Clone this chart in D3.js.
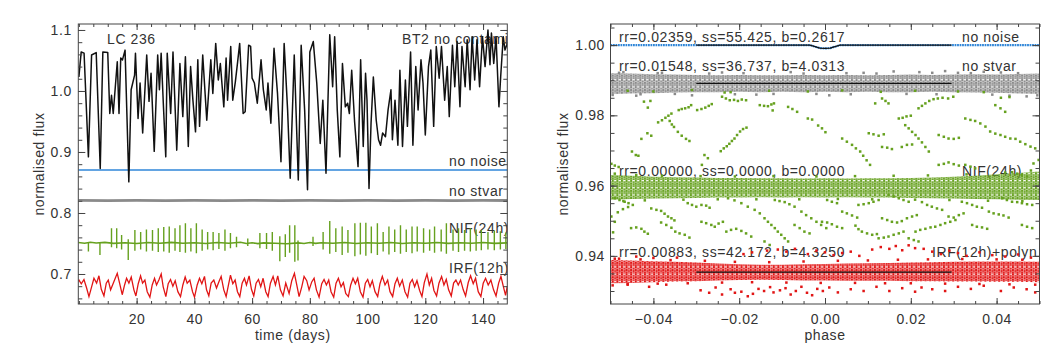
<!DOCTYPE html>
<html>
<head>
<meta charset="UTF-8">
<script src="https://cdn.jsdelivr.net/npm/d3@7"></script>
<style>
  body { margin: 0; background: #fff; }
  svg text { font-family: "Liberation Sans", Arial, sans-serif; font-size: 14px; letter-spacing: 0.6px; fill: #333; }
</style>
</head>
<body>
<svg id="chart" width="1063" height="354"></svg>
<script>
// ---------- left panel: light curves (time in days, normalised flux) ----------
var blackLC = [
  [0.0,1.023],[0.8,1.064],[1.8,1.062],[3.3,0.892],[4.4,1.059],[6.0,1.063],[7.4,0.873],[8.3,1.064],[10.0,1.063],[10.7,0.963],
  [11.3,0.993],[11.9,0.963],[13.3,1.048],[13.9,0.963],[14.5,1.054],[15.1,1.051],[16.0,1.067],[17.3,0.851],[18.1,1.002],[19.3,1.026],
  [19.6,1.062],[20.5,0.955],[21.2,1.013],[22.1,0.931],[23.5,1.059],[24.3,0.983],[25.0,1.029],[26.1,0.901],[27.3,1.059],[27.9,1.002],
  [28.5,1.062],[29.3,0.974],[30.1,0.892],[30.6,1.062],[31.8,0.963],[32.6,1.064],[33.9,0.903],[35.0,1.045],[36.0,0.958],[36.9,1.056],
  [37.9,0.909],[38.7,1.040],[39.5,0.985],[40.4,0.933],[41.2,1.051],[41.8,0.942],[42.9,1.059],[44.3,0.952],[45.7,1.051],[46.4,0.996],
  [47.4,1.078],[48.3,1.018],[49.0,1.045],[50.2,0.974],[51.0,1.054],[51.5,0.985],[52.6,1.073],[53.3,0.985],[54.2,1.015],[55.0,1.048],
  [55.7,1.078],[56.9,0.963],[57.6,0.966],[58.8,1.075],[59.5,1.073],[60.0,1.021],[60.8,1.013],[61.8,0.980],[63.1,1.051],[63.9,1.002],
  [64.9,0.969],[65.5,1.013],[66.5,0.947],[67.6,1.070],[68.8,0.996],[70.0,0.884],[71.1,1.078],[72.3,0.969],[73.2,0.857],[74.6,1.059],
  [76.0,0.854],[77.0,1.075],[78.2,0.969],[79.2,0.838],[80.0,1.064],[81.2,1.081],[82.4,1.013],[83.6,0.914],[84.5,0.985],[85.6,0.865],
  [86.9,1.092],[87.9,1.007],[88.6,1.089],[89.5,0.969],[90.4,0.892],[91.3,1.045],[92.3,0.974],[93.1,0.980],[93.7,0.963],[94.5,1.034],
  [95.5,0.950],[96.7,0.876],[97.6,1.051],[98.5,0.909],[99.3,1.029],[99.8,0.985],[100.5,0.840],[101.2,0.947],[102.0,1.023],[103.0,0.952],
  [103.8,0.920],[104.5,0.911],[105.2,0.931],[106.2,0.925],[107.1,0.969],[108.1,1.002],[108.6,0.920],[109.5,0.985],[110.5,0.911],[111.2,1.034],
  [112.1,0.909],[113.1,1.018],[113.8,0.942],[114.9,1.064],[115.7,0.911],[116.7,1.040],[117.5,0.969],[118.5,1.051],[119.2,1.013],[120.0,0.928],
  [121.1,1.040],[121.9,1.067],[122.9,0.942],[123.8,1.073],[124.8,1.021],[125.6,1.073],[126.7,0.985],[127.6,1.040],[128.3,0.958],[129.4,1.075],
  [130.2,1.007],[131.0,1.081],[132.0,0.974],[132.7,1.073],[133.8,1.007],[134.5,1.084],[135.5,1.002],[136.2,1.089],[137.1,1.018],[137.9,1.084],
  [138.8,1.007],[139.8,1.089],[140.7,1.040],[141.7,1.100],[142.4,1.043],[142.9,1.095],[143.7,1.045],[144.5,1.089],[145.5,0.974],[146.1,1.023],
  [147.0,1.089],[147.6,1.067],[148.4,1.078]
];

var blueLC = [[-0.2,0.8705],[148.4,0.8705]];

var grayLC = [
  [-0.2,0.8206],[10,0.8203],[20,0.8207],[30,0.8204],[40,0.8206],[50,0.8203],[60,0.8207],[70,0.8204],[80,0.8206],
  [90,0.8203],[100,0.8207],[110,0.8204],[120,0.8206],[130,0.8203],[140,0.8207],[148.4,0.8205]
];

// NIF(24h): quiet baseline plus up/down spikes
var greenBase = [
  [-0.2,0.7515],[2,0.7505],[4,0.7520],[6,0.7508],[9,0.7518],[12,0.7502],[16,0.7512],[20,0.7500],[24,0.7515],[28,0.7505],
  [32,0.7518],[36,0.7503],[40,0.7513],[44,0.7500],[48,0.7515],[52,0.7505],[56,0.7520],[58,0.7500],[60,0.7512],[62,0.7498],
  [64,0.7510],[68,0.7505],[72,0.7495],[76,0.7510],[78,0.7500],[80,0.7515],[82,0.7502],[84,0.7512],[88,0.7505],[92,0.7515],
  [96,0.7500],[100,0.7512],[104,0.7505],[108,0.7515],[112,0.7500],[116,0.7512],[120,0.7505],[124,0.7515],[128,0.7502],[132,0.7512],
  [136,0.7505],[140,0.7515],[144,0.7502],[148.4,0.7510]
];
var greenT = [3.3,7.3,11.3,13.1,14.8,17.1,19.4,21.4,23.4,25.5,27.5,29.4,31.3,33.3,35.0,36.9,38.8,40.7,42.7,44.6,46.5,48.5,50.6,52.5,54.6,58.5,
  62.7,65.0,67.0,69.6,71.5,73.0,74.8,75.9,81.1,84.6,86.9,89.0,91.2,93.2,95.6,97.5,99.4,101.3,103.4,105.4,107.4,109.4,111.4,113.4,115.4,
  117.2,119.4,121.5,123.2,125.5,127.3,129.6,131.5,133.6,135.6,137.6,139.4,141.7,143.9,146.0,147.9];
var greenUp = [0.752,0.752,0.775,0.775,0.764,0.757,0.772,0.769,0.773,0.772,0.775,0.777,0.778,0.775,0.780,0.783,0.775,0.783,0.773,0.769,
  0.769,0.767,0.773,0.767,0.761,0.758,0.767,0.767,0.769,0.762,0.765,0.780,0.780,0.755,0.761,0.769,0.787,0.775,0.778,0.772,
  0.783,0.784,0.784,0.778,0.783,0.769,0.778,0.773,0.780,0.773,0.778,0.778,0.775,0.773,0.778,0.773,0.783,0.773,0.775,0.772,
  0.775,0.773,0.772,0.769,0.771,0.770,0.768];
var greenDown = [0.737,0.731,0.744,0.742,0.740,0.723,0.738,0.740,0.737,0.738,0.736,0.737,0.735,0.738,0.736,0.735,0.737,0.734,0.738,0.740,
  0.739,0.741,0.738,0.742,0.744,0.746,0.742,0.741,0.738,0.721,0.728,0.735,0.720,0.722,0.746,0.740,0.733,0.736,0.731,0.735,
  0.729,0.732,0.730,0.734,0.731,0.737,0.732,0.736,0.733,0.736,0.734,0.737,0.735,0.738,0.735,0.737,0.733,0.738,0.736,0.738,
  0.737,0.738,0.739,0.740,0.739,0.740,0.741];

var redLC = [
  [-0.2,0.688],[0.03,0.690],[0.84,0.684],[1.76,0.691],[2.68,0.677],[3.49,0.663],[4.41,0.679],[5.22,0.693],[6.14,0.685],[6.95,0.697],
  [7.76,0.675],[8.68,0.664],[9.49,0.685],[10.18,0.690],[10.99,0.674],[11.91,0.685],[12.6,0.693],[13.29,0.701],[14.1,0.685],[15.02,0.666],
  [15.83,0.682],[16.52,0.693],[17.33,0.685],[18.14,0.695],[19.06,0.674],[19.75,0.664],[20.56,0.684],[21.37,0.697],[22.06,0.685],[22.87,0.690],
  [23.67,0.671],[24.6,0.662],[25.4,0.682],[26.21,0.693],[26.9,0.682],[27.71,0.690],[28.52,0.700],[29.21,0.679],[30.13,0.663],[30.94,0.684],
  [31.75,0.691],[32.56,0.680],[33.36,0.689],[34.29,0.671],[35.21,0.663],[36.02,0.682],[36.82,0.695],[37.52,0.685],[38.44,0.690],[39.36,0.671],
  [40.05,0.662],[40.98,0.682],[41.78,0.693],[42.59,0.684],[43.51,0.696],[44.21,0.674],[45.01,0.664],[45.82,0.685],[46.74,0.690],[47.67,0.677],
  [48.47,0.687],[49.28,0.696],[50.2,0.674],[51.01,0.663],[51.82,0.682],[52.51,0.698],[53.32,0.684],[54.12,0.690],[54.93,0.671],[55.74,0.663],
  [56.55,0.685],[57.35,0.693],[58.05,0.682],[58.97,0.697],[59.78,0.675],[60.58,0.664],[61.39,0.685],[62.2,0.691],[63.0,0.679],[63.81,0.693],
  [64.74,0.671],[65.54,0.663],[66.35,0.685],[67.27,0.696],[68.08,0.682],[68.89,0.697],[69.81,0.674],[70.73,0.664],[71.66,0.685],[72.82,0.668],
  [73.74,0.689],[74.66,0.701],[75.47,0.682],[76.28,0.663],[77.2,0.679],[78.01,0.696],[78.93,0.689],[79.74,0.674],[80.66,0.687],[81.47,0.693],
  [82.28,0.674],[83.2,0.662],[84.12,0.684],[84.93,0.691],[85.74,0.682],[86.54,0.690],[87.35,0.671],[88.27,0.662],[89.08,0.685],[89.89,0.693],
  [90.81,0.679],[91.62,0.686],[92.43,0.668],[93.35,0.663],[94.16,0.682],[94.96,0.693],[95.77,0.684],[96.58,0.693],[97.5,0.671],[98.42,0.662],
  [99.23,0.685],[100.04,0.691],[100.85,0.679],[101.65,0.689],[102.58,0.671],[103.5,0.663],[104.3,0.684],[105.11,0.696],[106.04,0.682],[106.96,0.690],
  [107.77,0.671],[108.69,0.663],[109.5,0.684],[110.3,0.693],[111.11,0.680],[112.03,0.690],[112.96,0.671],[113.88,0.662],[114.69,0.685],[115.49,0.691],
  [116.3,0.679],[117.11,0.689],[118.03,0.673],[118.84,0.663],[119.65,0.686],[120.57,0.700],[121.38,0.682],[122.18,0.693],[122.99,0.673],[123.91,0.664],
  [124.72,0.685],[125.64,0.696],[126.45,0.682],[127.26,0.691],[128.07,0.674],[128.99,0.664],[129.8,0.685],[130.6,0.690],[131.41,0.682],[132.22,0.690],
  [133.14,0.674],[133.95,0.664],[134.87,0.686],[135.68,0.697],[136.6,0.684],[137.41,0.693],[138.33,0.671],[139.25,0.663],[140.06,0.685],[140.87,0.693],
  [141.79,0.682],[142.71,0.690],[143.64,0.674],[144.5,0.664],[145.4,0.685],[146.2,0.696],[147.0,0.680],[147.8,0.665],[148.4,0.680]
];

// ---------- right panel: phase-folded light curves ----------
var phaseKnots = [-0.05,-0.045,-0.04,-0.035,-0.03,-0.025,-0.02,-0.015,-0.01,-0.005,0,0.005,0.01,0.015,0.02,0.025,0.03,0.035,0.04,0.045,0.05];
var grayHi  = [0.9920,0.9919,0.9917,0.9916,0.9915,0.9914,0.9915,0.9914,0.9914,0.9915,0.9914,0.9915,0.9914,0.9915,0.9916,0.9915,0.9916,0.9917,0.9916,0.9918,0.9919];
var grayLo  = [0.9860,0.9862,0.9863,0.9865,0.9866,0.9866,0.9867,0.9866,0.9867,0.9866,0.9867,0.9866,0.9867,0.9866,0.9866,0.9867,0.9866,0.9865,0.9864,0.9862,0.9861];
var greenHi = [0.9630,0.9628,0.9625,0.9624,0.9623,0.9622,0.9622,0.9621,0.9621,0.9620,0.9621,0.9620,0.9621,0.9621,0.9622,0.9623,0.9625,0.9628,0.9632,0.9636,0.9640];
var greenLo = [0.9560,0.9562,0.9563,0.9564,0.9565,0.9566,0.9566,0.9567,0.9566,0.9567,0.9566,0.9567,0.9566,0.9566,0.9565,0.9564,0.9563,0.9562,0.9561,0.9560,0.9559];
var redHi   = [0.9388,0.9387,0.9385,0.9383,0.9381,0.9378,0.9376,0.9375,0.9375,0.9376,0.9377,0.9378,0.9379,0.9380,0.9381,0.9382,0.9383,0.9384,0.9384,0.9384,0.9383];
var redLo   = [0.9322,0.9323,0.9325,0.9327,0.9328,0.9330,0.9331,0.9332,0.9331,0.9330,0.9330,0.9329,0.9329,0.9329,0.9328,0.9328,0.9327,0.9327,0.9326,0.9326,0.9325];

var noNoisePhased = [[-0.05,1.0],[-0.0035,1.0],[-0.0025,0.9996],[-0.0012,0.99915],[0,0.99905],[0.0012,0.99915],[0.0025,0.9996],[0.0035,1.0],[0.05,1.0]];
var fitNoNoise = [[-0.03,1.0],[-0.0035,1.0],[-0.0025,0.9996],[-0.0012,0.99915],[0,0.99905],[0.0012,0.99915],[0.0025,0.9996],[0.0035,1.0],[0.0295,1.0]];
var fitNoStvar = [[-0.03,0.9891],[0.0295,0.9891]];
var fitIrf = [[-0.03,0.93536],[0.0295,0.93536]];

var grayOut = [[-0.0495,0.9858],[-0.047,0.9923],[-0.044,0.9856],[-0.038,0.9921],[-0.031,0.9857],[-0.024,0.9922],[-0.016,0.9859],
  [-0.008,0.9923],[0.001,0.9857],[0.009,0.9921],[0.016,0.9925],[0.022,0.9923],[0.028,0.9926],[0.031,0.9921],[0.037,0.9924],
  [0.043,0.9856],[0.047,0.9854],[0.0495,0.9857],
  [-0.048,0.9921],[-0.043,0.9860],[-0.039,0.9920],[-0.035,0.9861],[-0.027,0.9919],[-0.021,0.9860],[-0.019,0.9920],[-0.012,0.9861],
  [-0.005,0.9919],[-0.002,0.9861],[0.005,0.9920],[0.006,0.9860],[0.012,0.9919],[0.019,0.9861],[0.025,0.9921],[0.026,0.9860],
  [0.034,0.9920],[0.039,0.9859],[0.041,0.9922],[0.045,0.9920]];

var greenEdge = [[-0.049,0.9634],[-0.047,0.9556],[-0.044,0.9630],[-0.042,0.9558],[-0.038,0.9628],[-0.033,0.9560],[-0.029,0.9627],
  [-0.025,0.9561],[-0.021,0.9626],[-0.016,0.9561],[-0.012,0.9627],[-0.006,0.9561],[-0.002,0.9626],[0.003,0.9562],[0.007,0.9627],
  [0.011,0.9561],[0.016,0.9628],[0.021,0.9560],[0.024,0.9629],[0.029,0.9559],[0.033,0.9632],[0.038,0.9557],[0.042,0.9637],
  [0.046,0.9556],[0.048,0.9643]];

var greenUpper = [
  [-0.046,0.9870],[-0.040,0.9868],[-0.031,0.9872],[-0.022,0.9866],[-0.013,0.9870],[-0.004,0.9868],[0.004,0.9871],[0.013,0.9867],
  [0.021,0.9870],[0.031,0.9868],[0.037,0.9866],[0.041,0.9850],[0.043,0.9852],
  [-0.0422,0.9839],[-0.0407,0.9841],[-0.0413,0.9822],[-0.0389,0.9780],[-0.0380,0.9786],[-0.0372,0.9793],[-0.0365,0.9799],[-0.0358,0.9805],
  [-0.0362,0.9784],[-0.0357,0.9774],[-0.0352,0.9767],[-0.0341,0.9815],[-0.0334,0.9818],[-0.0326,0.9820],[-0.0318,0.9823],[-0.0312,0.9829],
  [-0.0298,0.9815],[-0.0288,0.9818],[-0.0279,0.9822],[-0.0271,0.9827],[-0.0264,0.9832],[-0.0414,0.9749],[-0.0405,0.9742],[-0.0428,0.9733],
  [-0.0343,0.9753],[-0.0334,0.9742],[-0.0324,0.9733],[-0.0316,0.9727],[-0.0450,0.9697],[-0.0441,0.9687],[-0.0435,0.9685],
  [-0.0240,0.9853],[-0.0231,0.9848],[-0.0222,0.9843],[-0.0212,0.9844],[-0.0203,0.9841],[-0.0194,0.9845],[-0.0184,0.9843],[-0.0234,0.9865],
  [-0.0243,0.9698],[-0.0236,0.9706],[-0.0229,0.9712],[-0.0223,0.9719],[-0.0217,0.9727],[-0.0211,0.9734],[-0.0205,0.9744],[-0.0198,0.9754],
  [-0.0191,0.9761],[-0.0183,0.9765],[-0.0281,0.9687],[-0.0273,0.9678],[-0.0287,0.9659],
  [-0.0152,0.9829],[-0.0142,0.9827],[-0.0133,0.9826],[-0.0125,0.9831],[-0.0119,0.9834],[-0.0122,0.9814],[-0.0086,0.9824],[-0.0076,0.9818],
  [-0.0065,0.9810],[-0.0040,0.9791],[-0.0030,0.9788],[-0.0016,0.9771],[-0.0007,0.9763],[0.0001,0.9752],[-0.0490,0.9657],[-0.0481,0.9653],[-0.0498,0.9662],
  [0.0117,0.9834],[0.0133,0.9848],[0.0141,0.9841],[0.0148,0.9834],[0.0172,0.9791],[0.0181,0.9793],[0.0190,0.9797],[0.0200,0.9799],
  [0.0187,0.9772],[0.0195,0.9763],[0.0203,0.9753],[0.0211,0.9744],[0.0218,0.9734],[0.0226,0.9723],[0.0234,0.9710],[0.0242,0.9697],
  [0.0218,0.9820],[0.0226,0.9827],[0.0234,0.9834],[0.0243,0.9841],[0.0253,0.9846],[0.0263,0.9848],[0.0274,0.9850],[0.0287,0.9848],[0.0299,0.9853],
  [0.0102,0.9749],[0.0113,0.9746],[0.0125,0.9742],[0.0137,0.9746],[0.0040,0.9734],[0.0051,0.9725],[0.0063,0.9716],[0.0072,0.9706],
  [0.0082,0.9697],[0.0089,0.9685],[0.0097,0.9672],[0.0105,0.9659],[0.0133,0.9710],[0.0145,0.9708],[0.0156,0.9704],[0.0179,0.9710],
  [0.0191,0.9716],[0.0203,0.9717],[0.0265,0.9744],[0.0277,0.9739],[0.0288,0.9734],[0.0300,0.9733],[0.0312,0.9736],
  [0.0327,0.9791],[0.0339,0.9787],[0.0350,0.9784],[0.0362,0.9777],[0.0374,0.9768],[0.0385,0.9754],[0.0397,0.9748],[0.0409,0.9744],
  [0.0420,0.9739],[0.0432,0.9734],[0.0444,0.9733],[0.0455,0.9725],[0.0467,0.9718],[0.0479,0.9711],[0.0490,0.9706],
  [0.0397,0.9829],[0.0409,0.9820],[0.0420,0.9810],[0.0486,0.9663],[0.0498,0.9673],[0.0265,0.9659],[0.0277,0.9662],[0.0288,0.9666],
  [0.0300,0.9661],[0.0312,0.9657],[0.0327,0.9659],[0.0339,0.9654],[0.0350,0.9649],[0.0436,0.9638],[0.0448,0.9634],[0.0459,0.9630],[0.0471,0.9626]
];
var greenLower = [
  [-0.0490,0.9564],[-0.0479,0.9559],[-0.0467,0.9554],[-0.0458,0.9550],[-0.0483,0.9524],[-0.0471,0.9533],[-0.0459,0.9539],[-0.0448,0.9545],
  [-0.0452,0.9479],[-0.0440,0.9481],[-0.0428,0.9477],[-0.0421,0.9469],[-0.0413,0.9463],[-0.0405,0.9535],[-0.0393,0.9531],[-0.0382,0.9528],
  [-0.0374,0.9520],[-0.0366,0.9512],[-0.0358,0.9507],[-0.0351,0.9501],[-0.0320,0.9550],[-0.0310,0.9545],[-0.0300,0.9540],[-0.0288,0.9545],
  [-0.0277,0.9543],[-0.0269,0.9537],[-0.0382,0.9495],[-0.0370,0.9488],[-0.0358,0.9480],[-0.0349,0.9469],[-0.0339,0.9464],[-0.0327,0.9460],
  [-0.0316,0.9452],[-0.0288,0.9497],[-0.0277,0.9493],[-0.0265,0.9488],[-0.0257,0.9483],[-0.0248,0.9492],[-0.0238,0.9497],[-0.0230,0.9469],
  [-0.0219,0.9474],[-0.0207,0.9477],[-0.0195,0.9471],[-0.0184,0.9464],[-0.0172,0.9455],[-0.0226,0.9564],[-0.0211,0.9558],[-0.0195,0.9550],
  [-0.0180,0.9540],[-0.0164,0.9531],[-0.0152,0.9521],[-0.0141,0.9507],[-0.0133,0.9497],[-0.0125,0.9488],[-0.0117,0.9479],[-0.0110,0.9469],
  [-0.0102,0.9460],[-0.0094,0.9450],[-0.0086,0.9441],[-0.0117,0.9559],[-0.0106,0.9556],[-0.0094,0.9553],[-0.0083,0.9547],[-0.0071,0.9540],
  [-0.0055,0.9526],[-0.0044,0.9516],[-0.0032,0.9507],[-0.0020,0.9497],[-0.0009,0.9488],[0.0003,0.9479],[-0.0071,0.9488],[-0.0059,0.9479],
  [-0.0048,0.9469],[-0.0036,0.9464],[-0.0498,0.9512],[-0.0490,0.9497],[-0.0494,0.9467],[-0.0141,0.9441],[-0.0129,0.9431],
  [0.0005,0.9559],[0.0016,0.9554],[0.0028,0.9550],[-0.0007,0.9497],[0.0005,0.9495],[0.0016,0.9490],[0.0028,0.9483],[0.0040,0.9479],
  [0.0040,0.9526],[0.0051,0.9521],[0.0063,0.9515],[0.0075,0.9509],[0.0078,0.9545],[0.0090,0.9547],[0.0102,0.9550],[0.0113,0.9554],
  [0.0125,0.9559],[0.0086,0.9469],[0.0098,0.9464],[0.0110,0.9460],[0.0121,0.9462],[0.0071,0.9486],[0.0078,0.9476],[0.0148,0.9573],
  [0.0160,0.9569],[0.0172,0.9564],[0.0183,0.9559],[0.0195,0.9554],[0.0133,0.9507],[0.0145,0.9502],[0.0156,0.9497],[0.0168,0.9495],
  [0.0179,0.9499],[0.0191,0.9507],[0.0203,0.9512],[0.0214,0.9516],[0.0125,0.9450],[0.0137,0.9452],[0.0148,0.9455],[0.0160,0.9460],
  [0.0172,0.9464],[0.0183,0.9469],[0.0211,0.9469],[0.0222,0.9474],[0.0234,0.9477],[0.0246,0.9481],[0.0257,0.9483],[0.0269,0.9488],
  [0.0280,0.9493],[0.0292,0.9497],[0.0304,0.9502],[0.0226,0.9553],[0.0238,0.9545],[0.0249,0.9540],[0.0261,0.9535],[0.0273,0.9531],
  [0.0288,0.9512],[0.0300,0.9509],[0.0312,0.9516],[0.0323,0.9521],[0.0319,0.9554],[0.0331,0.9550],[0.0343,0.9545],[0.0354,0.9540],
  [0.0366,0.9537],[0.0343,0.9488],[0.0354,0.9483],[0.0366,0.9481],[0.0378,0.9477],[0.0382,0.9526],[0.0393,0.9521],[0.0405,0.9518],
  [0.0416,0.9515],[0.0428,0.9509],[0.0413,0.9564],[0.0424,0.9559],[0.0436,0.9554],[0.0448,0.9553],[0.0459,0.9550],[0.0471,0.9547],
  [0.0483,0.9545],[0.0459,0.9488],[0.0471,0.9483],[0.0483,0.9479],[0.0195,0.9450],[0.0207,0.9445],[0.0218,0.9441]
];

var redOut = [
  [-0.0495,0.9316],[-0.046,0.9318],[-0.041,0.9312],[-0.037,0.9318],[-0.029,0.9302],[-0.027,0.9295],[-0.0255,0.9310],[-0.024,0.9290],
  [-0.022,0.9305],[-0.021,0.9295],[-0.0195,0.9298],[-0.018,0.9285],[-0.0168,0.9292],[-0.0155,0.9306],[-0.0142,0.9300],[-0.0128,0.9311],
  [-0.012,0.9296],[-0.0105,0.9302],[-0.0092,0.9308],[-0.008,0.9290],[-0.0068,0.9300],[-0.0055,0.9312],[-0.0042,0.9295],[-0.003,0.9288],
  [-0.0018,0.9306],[-0.0005,0.9300],[0.001,0.9310],[0.003,0.9296],[0.006,0.9305],[0.009,0.9300],[0.012,0.9312],[0.015,0.9300],
  [0.018,0.9308],[0.021,0.9298],[0.0225,0.9310],[0.025,0.9305],[0.028,0.9300],[0.031,0.9312],[0.034,0.9306],[0.037,0.9315],
  [0.041,0.9300],[0.044,0.9310],[0.047,0.9305],[0.049,0.9296],
  [-0.048,0.9392],[-0.044,0.9398],[-0.040,0.9394],[-0.0345,0.9395],[-0.019,0.9405],[-0.017,0.9410],[-0.0135,0.9415],[-0.011,0.9418],
  [-0.009,0.9412],[-0.007,0.9420],[-0.004,0.9405],[-0.002,0.9415],[0.0,0.9410],[0.002,0.9402],[0.004,0.9408],[0.006,0.9412],
  [0.008,0.9400],[0.011,0.9418],[0.013,0.9425],[0.015,0.9420],[0.0165,0.9428],[0.018,0.9416],[0.0195,0.9430],[0.021,0.9422],
  [0.023,0.9420],[0.025,0.9412],[0.027,0.9405],[0.029,0.9415],[0.031,0.9408],[0.033,0.9400],[0.036,0.9410],[0.039,0.9402],
  [0.042,0.9398],[0.045,0.9404],[0.048,0.9395],
  [-0.049,0.9392],[-0.046,0.9320],[-0.043,0.9390],[-0.039,0.9321],[-0.036,0.9388],[-0.032,0.9322],[-0.028,0.9386],[-0.024,0.9324],
  [-0.021,0.9383],[-0.017,0.9325],[-0.013,0.9382],[-0.009,0.9324],[-0.005,0.9384],[-0.001,0.9323],[0.003,0.9386],[0.007,0.9323],
  [0.010,0.9387],[0.014,0.9322],[0.017,0.9389],[0.020,0.9322],[0.024,0.9390],[0.028,0.9321],[0.032,0.9391],[0.036,0.9320],
  [0.040,0.9390],[0.043,0.9319],[0.046,0.9389],[0.049,0.9318]
];

// tick values
var leftXMajor = [20,40,60,80,100,120,140];
var leftXMinor = d3.range(0, 149, 5);
var leftYMajor = [0.7,0.8,0.9,1.0,1.1];
var leftYMinor = d3.range(0.66, 1.11, 0.02);
var rightXMajor = [-0.04,-0.02,0,0.02,0.04];
var rightXMinor = d3.range(-0.05, 0.0501, 0.005);
var rightYMajor = [0.94,0.96,0.98,1.00];
var rightYMinor = d3.range(0.93, 1.006, 0.005);

var colBlack = "#111", colBlue = "#2f86d8", colGray = "#8a8a8a", colGreen = "#66a11f", colRed = "#e11515";

var svg = d3.select("#chart");
svg.append("rect").attr("width", 1063).attr("height", 354).attr("fill", "#fff");

var defs = svg.append("defs");
// texture for the dense part of each phased band: staggered columns of dots
var speckle = [[0,0],[0,2.5],[0,4.9],[2.3,1.2],[2.3,3.7],[2.3,6.0]];
function dotPattern(id, color) {
  var p = defs.append("pattern").attr("id", id).attr("patternUnits", "userSpaceOnUse")
    .attr("width", 4.6).attr("height", 7.2);
  p.selectAll("rect").data(speckle).enter().append("rect")
    .attr("x", function(d) { return d[0]; }).attr("y", function(d) { return d[1]; })
    .attr("width", 2.05).attr("height", 2.1).attr("fill", color);
}
dotPattern("patGray", colGray);
dotPattern("patGreen", colGreen);
dotPattern("patRed", colRed);

function drawAxes(g, x, y, o) {
  var xr = x.range(), yr = y.range();
  function style(sel) {
    sel.select(".domain").remove();
    sel.selectAll("line").attr("stroke", "#444");
  }
  g.append("g").attr("transform", "translate(0," + yr[0] + ")")
    .call(d3.axisBottom(x).tickValues(o.xMajor).tickSize(-6).tickPadding(10).tickFormat(o.xFmt)).call(style);
  g.append("g").attr("transform", "translate(0," + yr[0] + ")")
    .call(d3.axisBottom(x).tickValues(o.xMinor).tickSize(-3).tickFormat("")).call(style);
  g.append("g").attr("transform", "translate(0," + yr[1] + ")")
    .call(d3.axisTop(x).tickValues(o.xMajor).tickSize(-6).tickFormat("")).call(style);
  g.append("g").attr("transform", "translate(0," + yr[1] + ")")
    .call(d3.axisTop(x).tickValues(o.xMinor).tickSize(-3).tickFormat("")).call(style);
  g.append("g").attr("transform", "translate(" + xr[0] + ",0)")
    .call(d3.axisLeft(y).tickValues(o.yMajor).tickSize(-7).tickPadding(o.yPad).tickFormat(o.yFmt)).call(style);
  g.append("g").attr("transform", "translate(" + xr[0] + ",0)")
    .call(d3.axisLeft(y).tickValues(o.yMinor).tickSize(-4).tickFormat("")).call(style);
  g.append("g").attr("transform", "translate(" + xr[1] + ",0)")
    .call(d3.axisRight(y).tickValues(o.yMajor).tickSize(-7).tickFormat("")).call(style);
  g.append("g").attr("transform", "translate(" + xr[1] + ",0)")
    .call(d3.axisRight(y).tickValues(o.yMinor).tickSize(-4).tickFormat("")).call(style);
  g.append("rect").attr("x", xr[0]).attr("y", yr[1]).attr("width", xr[1] - xr[0]).attr("height", yr[0] - yr[1])
    .attr("fill", "none").attr("stroke", "#444").attr("stroke-width", 1);
  g.append("text").attr("x", (xr[0] + xr[1]) / 2).attr("y", 340).attr("text-anchor", "middle").text(o.xTitle);
  g.append("text").attr("transform", "translate(" + o.yTitleX + "," + (yr[0] + yr[1]) / 2 + ") rotate(-90)")
    .attr("text-anchor", "middle").attr("dy", "0.35em").text("normalised flux");
}

// ---------------- left panel ----------------
var xL = d3.scaleLinear().domain([-0.2, 148.4]).range([78.3, 507.3]);
var yL = d3.scaleLinear().domain([0.6508, 1.1098]).range([304, 24]);
var gL = svg.append("g");
defs.append("clipPath").attr("id", "clipL").append("rect").attr("x", 78.3).attr("y", 24).attr("width", 429).attr("height", 280);

var labL = gL.append("g").attr("clip-path", "url(#clipL)");
labL.append("text").attr("x", 107).attr("y", 44).text("LC 236");
labL.append("text").attr("x", 402).attr("y", 44).text("BT2 no contamination");
labL.append("text").attr("x", 449).attr("y", 165.5).text("no noise");
labL.append("text").attr("x", 449).attr("y", 195.5).text("no stvar");
labL.append("text").attr("x", 449).attr("y", 233).text("NIF(24h)");
labL.append("text").attr("x", 449).attr("y", 273).text("IRF(12h)");

var lineL = d3.line().x(function(d) { return xL(d[0]); }).y(function(d) { return yL(d[1]); });
var dataL = gL.append("g").attr("clip-path", "url(#clipL)");
dataL.append("path").datum(blueLC).attr("d", lineL).attr("fill", "none").attr("stroke", colBlue).attr("stroke-width", 1.6);
dataL.append("path").datum(grayLC).attr("d", lineL).attr("fill", "none").attr("stroke", colGray).attr("stroke-width", 2.8);
dataL.append("path").datum(greenBase).attr("d", lineL).attr("fill", "none").attr("stroke", colGreen).attr("stroke-width", 1.6);
dataL.append("g").selectAll("line").data(greenT).enter().append("line")
  .attr("x1", function(d) { return xL(d); }).attr("x2", function(d) { return xL(d); })
  .attr("y1", function(d, i) { return yL(greenDown[i]); }).attr("y2", function(d, i) { return yL(greenUp[i]); })
  .attr("stroke", colGreen).attr("stroke-width", 1.4);
dataL.append("path").datum(redLC).attr("d", lineL).attr("fill", "none").attr("stroke", colRed).attr("stroke-width", 1.3);
dataL.append("path").datum(blackLC).attr("d", lineL).attr("fill", "none").attr("stroke", colBlack).attr("stroke-width", 1.5)
  .attr("stroke-linejoin", "round");

drawAxes(gL, xL, yL, {
  xMajor: leftXMajor, xMinor: leftXMinor, yMajor: leftYMajor, yMinor: leftYMinor,
  xFmt: d3.format("d"), yFmt: d3.format(".1f"), yPad: 6.5, xTitle: "time (days)", yTitleX: 39.5
});

// ---------------- right panel ----------------
var xR = d3.scaleLinear().domain([-0.05, 0.05]).range([610.5, 1039.5]);
var yR = d3.scaleLinear().domain([0.9263, 1.006]).range([304, 24]);
var gR = svg.append("g");
defs.append("clipPath").attr("id", "clipR").append("rect").attr("x", 610.5).attr("y", 24).attr("width", 429).attr("height", 280);

var labR = gR.append("g");
labR.append("text").attr("x", 619).attr("y", 42).text("rr=0.02359, ss=55.425, b=0.2617");
labR.append("text").attr("x", 962).attr("y", 42).text("no noise");
labR.append("text").attr("x", 619).attr("y", 70.5).text("rr=0.01548, ss=36.737, b=4.0313");
labR.append("text").attr("x", 962).attr("y", 70.5).text("no stvar");
labR.append("text").attr("x", 619).attr("y", 175.5).text("rr=0.00000, ss=0.0000, b=0.0000");
labR.append("text").attr("x", 962).attr("y", 175.5).text("NIF(24h)");
labR.append("text").attr("x", 619).attr("y", 256.5).text("rr=0.00883, ss=42.172, b=4.3250");
labR.append("text").attr("x", 932).attr("y", 256.5).text("IRF(12h)+polyn");

var dataR = gR.append("g").attr("clip-path", "url(#clipR)");
var lineR = d3.line().x(function(d) { return xR(d[0]); }).y(function(d) { return yR(d[1]); });
var bandArea = d3.area().x(function(d) { return xR(d[0]); })
  .y0(function(d) { return yR(d[2]); }).y1(function(d) { return yR(d[1]); });
function band(hi, lo) { return phaseKnots.map(function(p, i) { return [p, hi[i], lo[i]]; }); }
function dots(g, data, color) {
  g.append("g").selectAll("rect").data(data).enter().append("rect")
    .attr("x", function(d) { return xR(d[0]) - 1.25; }).attr("y", function(d) { return yR(d[1]) - 1.25; })
    .attr("width", 2.5).attr("height", 2.5).attr("fill", color);
}

dataR.append("path").datum(noNoisePhased).attr("d", lineR).attr("fill", "none").attr("stroke", colBlue)
  .attr("stroke-width", 2.2).attr("stroke-dasharray", "1.8,0.7");
dataR.append("path").datum(band(grayHi, grayLo)).attr("d", bandArea).attr("fill", "url(#patGray)");
dots(dataR, grayOut, colGray);
dataR.append("path").datum(band(greenHi, greenLo)).attr("d", bandArea).attr("fill", "url(#patGreen)");
dots(dataR, greenEdge, colGreen);
dots(dataR, greenUpper, colGreen);
dots(dataR, greenLower, colGreen);
dataR.append("path").datum(band(redHi, redLo)).attr("d", bandArea).attr("fill", "url(#patRed)");
dots(dataR, redOut, colRed);

[fitNoNoise, fitNoStvar, fitIrf].forEach(function(f) {
  dataR.append("path").datum(f).attr("d", lineR).attr("fill", "none").attr("stroke", "#111").attr("stroke-width", 1.3);
});

drawAxes(gR, xR, yR, {
  xMajor: rightXMajor, xMinor: rightXMinor, yMajor: rightYMajor, yMinor: rightYMinor,
  xFmt: d3.format(".2f"), yFmt: d3.format(".2f"), yPad: 5.5, xTitle: "phase", yTitleX: 563
});
</script>
</body>
</html>
